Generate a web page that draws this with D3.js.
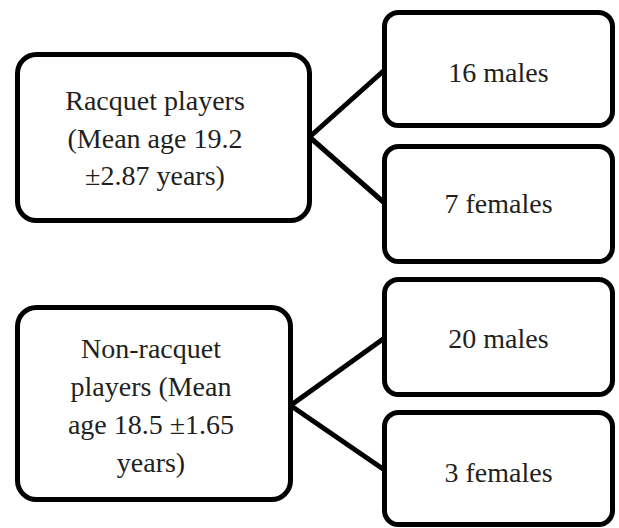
<!DOCTYPE html>
<html><head><meta charset="utf-8">
<script src="https://cdn.jsdelivr.net/npm/d3@7"></script>
<style>html,body{margin:0;padding:0;background:#fff;}svg{display:block;}</style>
</head><body>
<svg id="c" width="619" height="528"></svg>
<script>
// Data
const groups = ["Racquet players", "Non-racquet players"];
const groupLines = [
  ["Racquet players", "(Mean age 19.2", "±2.87 years)"],
  ["Non-racquet", "players (Mean", "age 18.5 ±1.65", "years)"]
];
const childLabels = [
  ["16 males", "7 females"],
  ["20 males", "3 females"]
];

const svg = d3.select("#c");
const font = "'Liberation Serif', serif";
const fs = 28;
const sw = 5;

// layout
const parentBoxes = [
  {x0: 17.5, x1: 309.5, y0: 54.5, y1: 220.5, cx: 155, base: 110, lh: 37.5},
  {x0: 17.5, x1: 290.5, y0: 307.5, y1: 499.5, cx: 151, base: 358, lh: 38}
];
const childBoxes = [
  [{y0: 12.5, y1: 125.5, base: 82}, {y0: 146.5, y1: 261.5, base: 213}],
  [{y0: 279.5, y1: 394.5, base: 348}, {y0: 412.5, y1: 524.5, base: 482}]
];
const cx0 = 384.5, cx1 = 612.5;

groups.forEach((g, i) => {
  const p = parentBoxes[i];
  const vy = (p.y0 + p.y1) / 2 + (i === 0 ? -0.5 : 2);
  childBoxes[i].forEach((c, j) => {
    const ty = i === 0 ? (j === 0 ? 70 : 203) : (j === 0 ? 338 : 470);
    svg.append("line")
      .attr("x1", p.x1).attr("y1", vy)
      .attr("x2", cx0).attr("y2", ty)
      .attr("stroke", "#000").attr("stroke-width", sw);
  });
  svg.append("rect")
    .attr("x", p.x0).attr("y", p.y0)
    .attr("width", p.x1 - p.x0).attr("height", p.y1 - p.y0)
    .attr("rx", 19).attr("ry", 19)
    .attr("fill", "#fff").attr("stroke", "#000").attr("stroke-width", sw);
  const t = svg.append("text")
    .attr("font-family", font).attr("font-size", fs)
    .attr("fill", "#231f20").attr("text-anchor", "middle");
  groupLines[i].forEach((ln, k) => {
    t.append("tspan").attr("x", p.cx).attr("y", p.base + k * p.lh).text(ln);
  });
  childBoxes[i].forEach((c, j) => {
    svg.append("rect")
      .attr("x", cx0).attr("y", c.y0)
      .attr("width", cx1 - cx0).attr("height", c.y1 - c.y0)
      .attr("rx", 14).attr("ry", 14)
      .attr("fill", "#fff").attr("stroke", "#000").attr("stroke-width", sw);
    svg.append("text")
      .attr("x", (cx0 + cx1) / 2).attr("y", c.base)
      .attr("font-family", font).attr("font-size", fs)
      .attr("fill", "#231f20").attr("text-anchor", "middle")
      .text(childLabels[i][j]);
  });
});
</script>
</body></html>
